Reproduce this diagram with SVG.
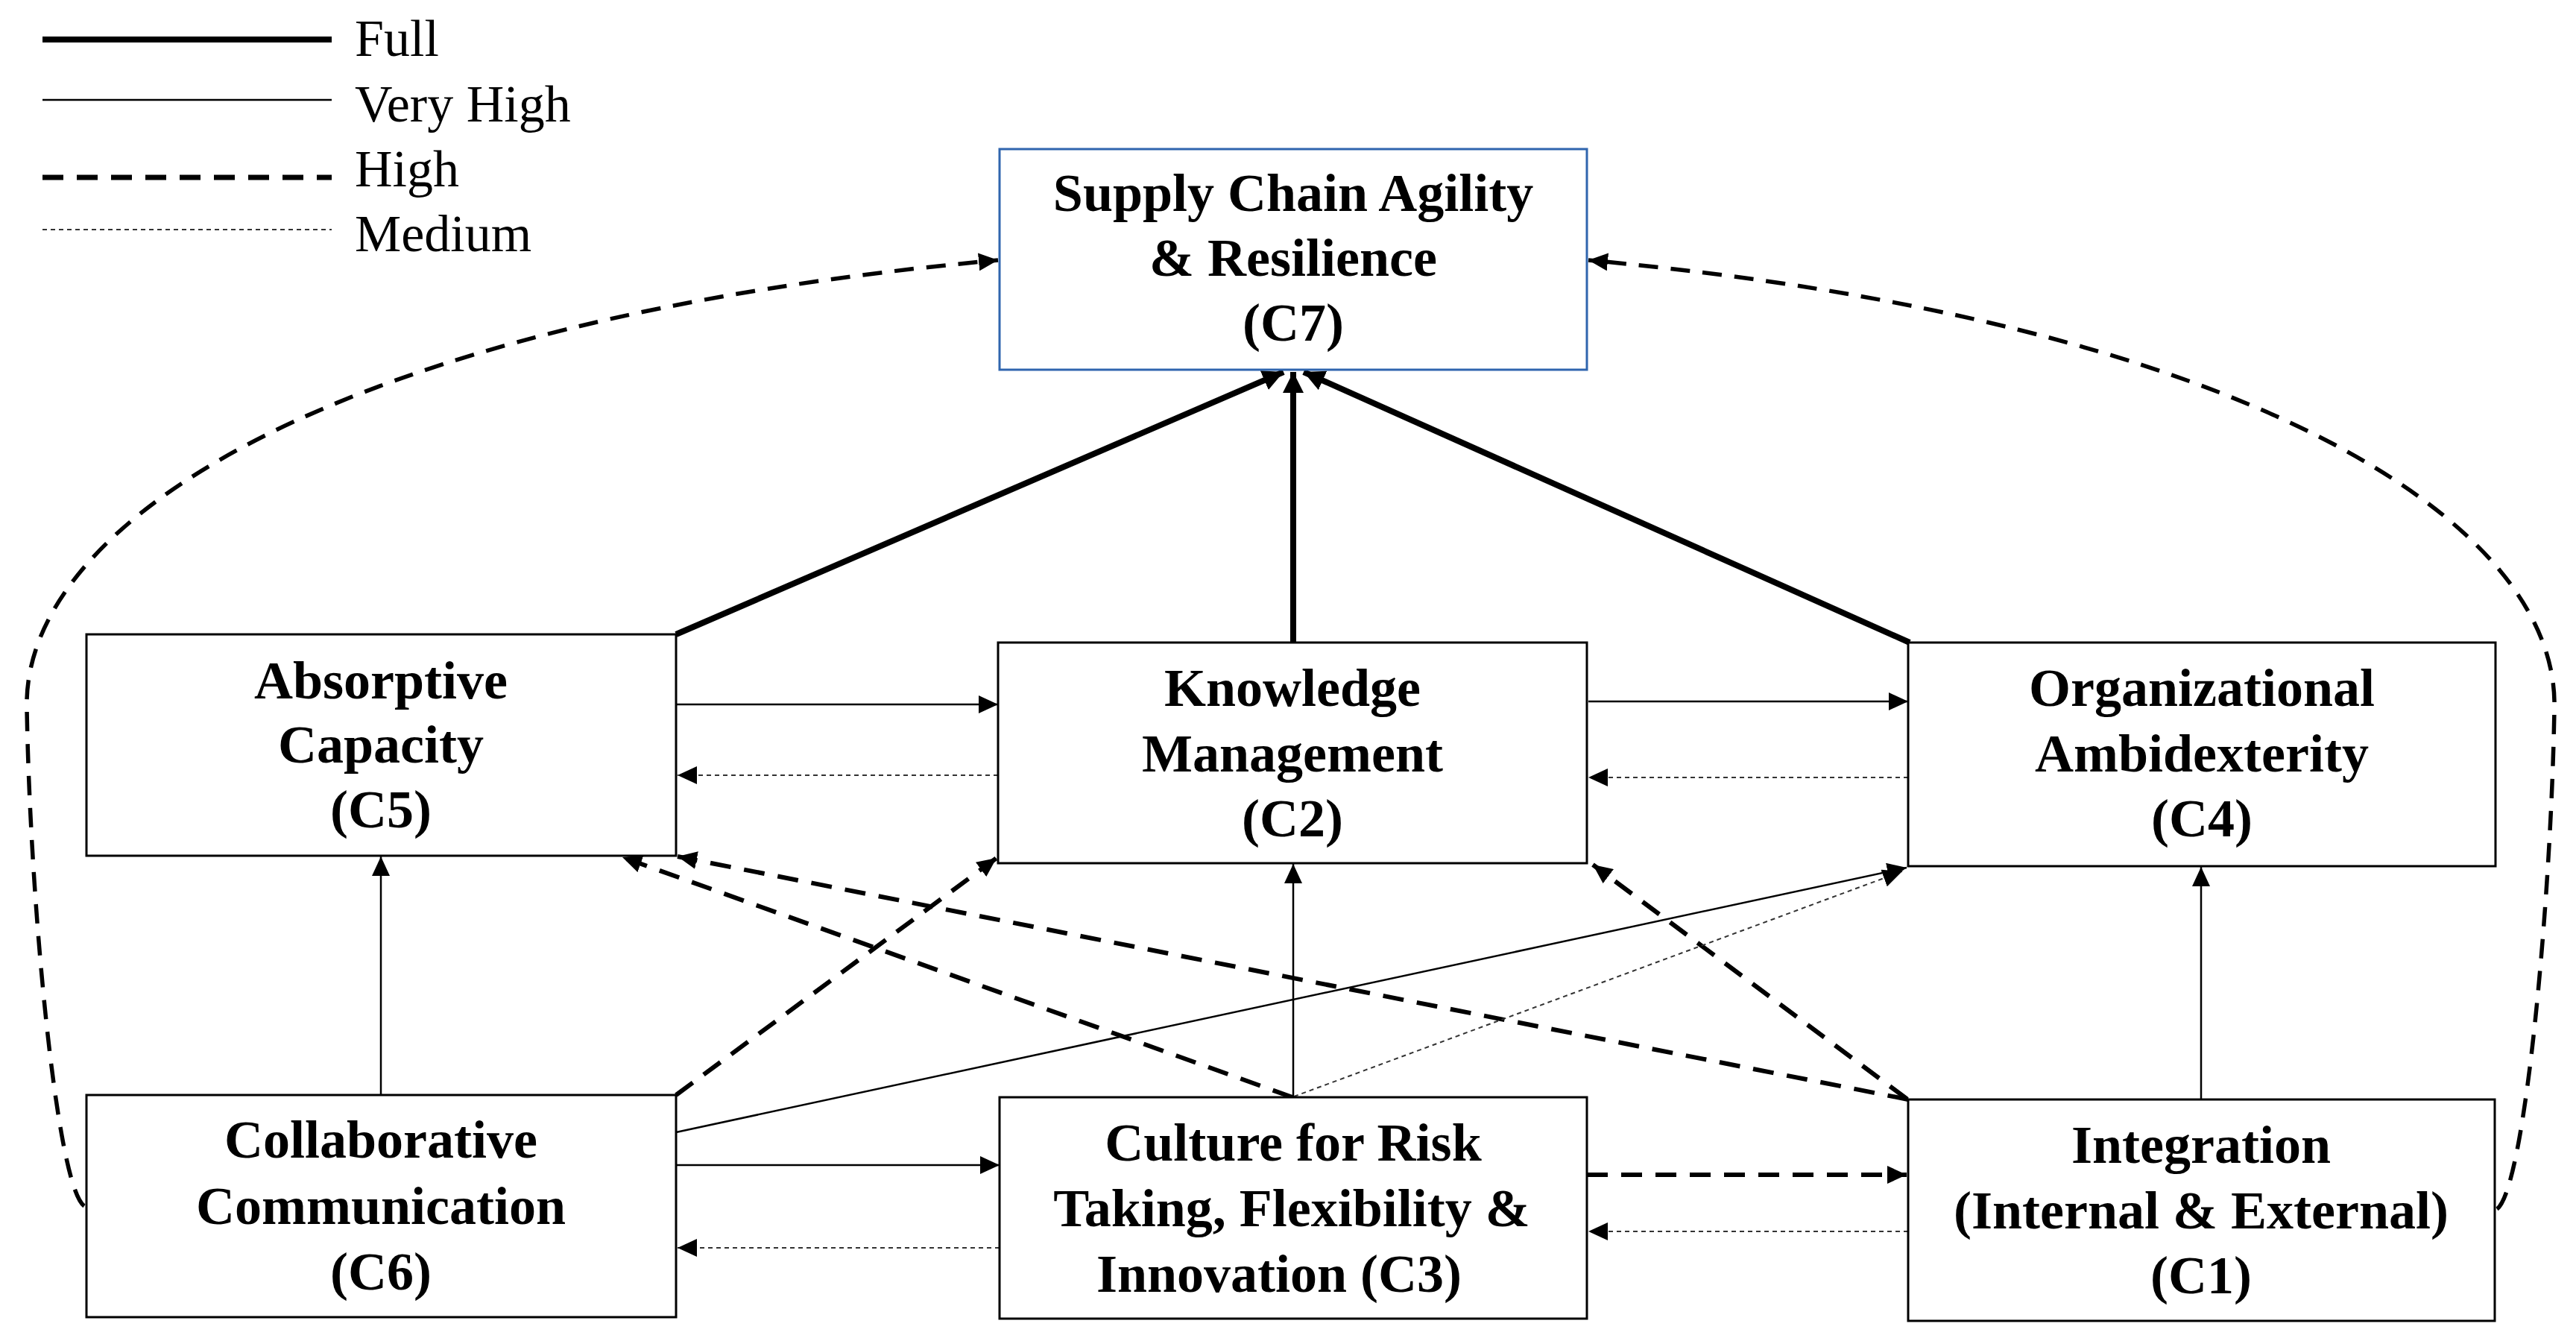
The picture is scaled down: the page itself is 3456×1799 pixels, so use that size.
<svg xmlns="http://www.w3.org/2000/svg" width="3456" height="1799" viewBox="0 0 3456 1799">
<style>
.box{fill:#fff;stroke:#000;stroke-width:3}
.box7{fill:#fff;stroke:#2f65ae;stroke-width:3}
.t{font-family:"Liberation Serif","Times New Roman",serif;font-weight:bold;font-size:72px;text-anchor:middle;fill:#000}
.lg{font-family:"Liberation Serif","Times New Roman",serif;font-size:70px;fill:#000}
.full{stroke:#000;stroke-width:8;fill:none}
.vh{stroke:#000;stroke-width:2.5;fill:none}
.hi{stroke:#000;stroke-width:6;fill:none;stroke-dasharray:28 18}
.cv{stroke:#000;stroke-width:5.5;fill:none;stroke-dasharray:26 17}
.md{stroke:#333;stroke-width:2;fill:none;stroke-dasharray:6 5}
</style>
<defs>
<marker id="aF" markerUnits="userSpaceOnUse" markerWidth="30" markerHeight="28" refX="28" refY="14" orient="auto"><path d="M0,0 L28,14 L0,28 z" fill="#000"/></marker>
<marker id="a" markerUnits="userSpaceOnUse" markerWidth="28" markerHeight="24" refX="26" refY="12" orient="auto"><path d="M0,0 L26,12 L0,24 z" fill="#000"/></marker>
</defs>
<g id="legend">
<line x1="57" y1="53" x2="445" y2="53" class="full"/>
<text x="476" y="75" class="lg">Full</text>
<line x1="57" y1="134" x2="445" y2="134" class="vh"/>
<text x="476" y="163" class="lg">Very High</text>
<line x1="57" y1="238" x2="445" y2="238" class="hi" style="stroke-width:7"/>
<text x="476" y="250" class="lg">High</text>
<line x1="57" y1="308" x2="445" y2="308" class="md"/>
<text x="476" y="337" class="lg">Medium</text>
</g>
<g id="connectors">
<path d="M907,851 L1722,499" class="full" marker-end="url(#aF)"/>
<path d="M1735,862 L1735,499" class="full" marker-end="url(#aF)"/>
<path d="M2562,862 L1749,499" class="full" marker-end="url(#aF)"/>
<path d="M907,945 L1339,945" class="vh" marker-end="url(#a)"/>
<path d="M2131,941 L2560,941" class="vh" marker-end="url(#a)"/>
<path d="M511,1469 L511,1149" class="vh" marker-end="url(#a)"/>
<path d="M1735,1472 L1735,1159" class="vh" marker-end="url(#a)"/>
<path d="M2953,1475 L2953,1163" class="vh" marker-end="url(#a)"/>
<path d="M907,1563 L1341,1563" class="vh" marker-end="url(#a)"/>
<path d="M907,1519 L2558,1164" class="vh" marker-end="url(#a)"/>
<path d="M2129,1576 L2558,1576" class="hi" marker-end="url(#a)"/>
<path d="M907,1469 L1337,1151" class="hi" marker-end="url(#a)"/>
<path d="M1734,1472 L835,1150" class="hi" marker-end="url(#a)"/>
<path d="M2560,1475 L909,1149" class="hi" marker-end="url(#a)"/>
<path d="M2558,1474 L2137,1160" class="hi" marker-end="url(#a)"/>
<path d="M113,1618 C75,1590 40,1200 36,950 C30,700 450,430 1339,349" class="cv" marker-end="url(#a)"/>
<path d="M3350,1622 C3388,1594 3423,1200 3427,950 C3433,700 3013,430 2131,349" class="cv" marker-end="url(#a)"/>
<path d="M1339,1040 L909,1040" class="md" marker-end="url(#a)"/>
<path d="M2560,1043 L2131,1043" class="md" marker-end="url(#a)"/>
<path d="M1341,1674 L909,1674" class="md" marker-end="url(#a)"/>
<path d="M2560,1652 L2131,1652" class="md" marker-end="url(#a)"/>
<path d="M1736,1471 L2552,1169" class="md" marker-end="url(#a)"/>
</g>
<g id="C7">
<rect x="1341" y="200" width="788" height="296" class="box7"/>
<text x="1735" y="283" class="t">Supply Chain Agility</text>
<text x="1735" y="370" class="t">&amp; Resilience</text>
<text x="1735" y="457" class="t">(C7)</text>
</g>
<g id="C5">
<rect x="116" y="851" width="791" height="297" class="box"/>
<text x="511" y="937" class="t">Absorptive</text>
<text x="511" y="1023" class="t">Capacity</text>
<text x="511" y="1110" class="t">(C5)</text>
</g>
<g id="C2">
<rect x="1339" y="862" width="790" height="296" class="box"/>
<text x="1734" y="947" class="t">Knowledge</text>
<text x="1734" y="1035" class="t">Management</text>
<text x="1734" y="1122" class="t">(C2)</text>
</g>
<g id="C4">
<rect x="2560" y="862" width="788" height="300" class="box"/>
<text x="2954" y="947" class="t">Organizational</text>
<text x="2954" y="1035" class="t">Ambidexterity</text>
<text x="2954" y="1122" class="t">(C4)</text>
</g>
<g id="C6">
<rect x="116" y="1469" width="791" height="298" class="box"/>
<text x="511" y="1553" class="t">Collaborative</text>
<text x="511" y="1642" class="t">Communication</text>
<text x="511" y="1730" class="t">(C6)</text>
</g>
<g id="C3">
<rect x="1341" y="1472" width="788" height="297" class="box"/>
<text x="1735" y="1557" class="t">Culture for Risk</text>
<text x="1733" y="1645" class="t">Taking, Flexibility &amp;</text>
<text x="1716" y="1733" class="t">Innovation (C3)</text>
</g>
<g id="C1">
<rect x="2560" y="1475" width="787" height="297" class="box"/>
<text x="2953" y="1560" class="t">Integration</text>
<text x="2953" y="1648" class="t">(Internal &amp; External)</text>
<text x="2953" y="1735" class="t">(C1)</text>
</g>
</svg>
